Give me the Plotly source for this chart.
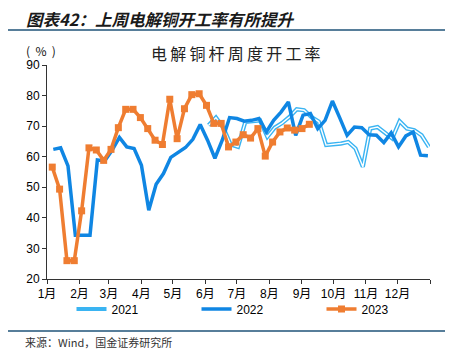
import pandas as pd
import plotly.graph_objects as go

# ---- data ----
months = ["1月", "2月", "3月", "4月", "5月", "6月", "7月", "8月", "9月", "10月", "11月", "12月", ""]
month_starts = ["2023-%02d-01" % m for m in range(1, 13)] + ["2024-01-01"]

y2021 = [70.3, 72.8, 69.5, 64.0, 63.2, 71.4, 71.6, 71.9, 66.5, 69.5,
         71.0, 73.0, 75.5, 75.2, 73.0, 71.5, 63.8, 64.0, 64.3, 64.8,
         62.7, 56.7, 69.2, 69.7, 68.0, 66.0, 71.6, 69.2, 68.7, 67.0, 63.2]
y2022 = [62.4, 62.9, 57.0, 34.3, 34.3, 34.3, 58.9, 58.6, 62.1, 66.3,
         63.2, 62.7, 57.2, 42.5, 51.0, 54.5, 59.8, 61.5, 63.0, 65.7,
         70.5, 65.4, 59.5, 65.4, 72.8, 72.5, 71.6, 71.9, 72.5, 68.1,
         71.9, 74.6, 77.9, 67.0, 73.6, 74.1, 69.2, 71.9, 78.2, 72.7,
         67.0, 69.7, 69.5, 67.2, 67.0, 64.6, 67.8, 63.2, 66.8, 68.1,
         60.5, 60.3]
y2023 = [56.6, 49.4, 26.0, 26.0, 42.3, 62.9, 62.2, 58.8, 62.4, 69.5,
         75.5, 75.5, 72.8, 69.2, 65.4, 64.0, 78.8, 65.9, 75.7, 80.3,
         80.6, 76.8, 70.9, 70.9, 63.2, 64.8, 67.2, 66.1, 69.2, 60.2,
         64.8, 68.1, 69.4, 68.7, 69.2, 70.6]

# weekly dates mapped onto a common calendar year
x2021 = pd.date_range("2023-06-04", periods=len(y2021), freq="7D")
x2022 = pd.date_range("2023-01-07", periods=len(y2022), freq="7D")
x2023 = pd.date_range("2023-01-06", periods=len(y2023), freq="7D")

C21 = "#3ab4f2"
C22 = "#0f86e3"
C23 = "#ef7d31"

fig = go.Figure()
# 2021: double line (light-blue outline, white core)
fig.add_trace(go.Scatter(x=x2021, y=y2021, mode="lines", name="2021",
                         line=dict(color=C21, width=4.2), legendgroup="a"))
fig.add_trace(go.Scatter(x=x2021, y=y2021, mode="lines", name="2021",
                         line=dict(color="white", width=1.4), legendgroup="a",
                         showlegend=False, hoverinfo="skip"))
fig.add_trace(go.Scatter(x=x2022, y=y2022, mode="lines", name="2022",
                         line=dict(color=C22, width=3.5)))
fig.add_trace(go.Scatter(x=x2023, y=y2023, mode="lines+markers", name="2023",
                         line=dict(color=C23, width=3.5),
                         marker=dict(symbol="square", size=7, color=C23)))

# page body has an 8px default margin: the figure is shifted by it
OFF = 8
PL, PR, PT, PB = 47, 430, 65, 279          # plot box in window pixels
W, H = 462 - OFF, 359 - OFF
L, T = PL - OFF, PT - OFF
R, B = W - (PR - OFF), H - (PB - OFF)
pw, ph = PR - PL, PB - PT


def px(x):
    return (x - PL) / pw


def py(y):
    return (PB - y) / ph


cjk = "Noto Sans CJK SC"
thin = "\u2009"
fig.update_layout(
    width=W, height=H,
    margin=dict(l=L, r=R, t=T, b=B, autoexpand=False),
    paper_bgcolor="white", plot_bgcolor="white",
    font=dict(family="Liberation Sans, " + cjk, size=12, color="#000"),
    showlegend=True,
    legend=dict(orientation="h", x=px(259), xanchor="center", y=py(309), yanchor="middle",
                font=dict(size=12, family="Liberation Sans"), entrywidth=80,
                itemwidth=30, bgcolor="rgba(0,0,0,0)"),
    xaxis=dict(type="date", range=["2023-01-01", "2024-01-01"],
               tickvals=month_starts, ticktext=months, ticks="outside", ticklen=4,
               tickcolor="#333", showline=True, linecolor="#333", linewidth=1,
               showgrid=False, zeroline=False,
               tickfont=dict(size=12, family="Liberation Sans, " + cjk)),
    yaxis=dict(range=[20, 90], tickvals=[20, 30, 40, 50, 60, 70, 80, 90],
               ticks="outside", ticklen=4, tickcolor="#333", showline=True,
               linecolor="#333", linewidth=1, showgrid=False, zeroline=False,
               tickfont=dict(size=12)),
    annotations=[
        dict(text="<b><i>图表42：上周电解铜开工率有所提升</i></b>", xref="paper", yref="paper",
             x=px(160), y=py(19), xanchor="center", yanchor="middle", showarrow=False,
             borderpad=0,
             font=dict(family=cjk, size=16.5, color="#1a1a1a")),
        dict(text=thin.join("电解铜杆周度开工率"), xref="paper", yref="paper",
             x=px(236), y=py(53), xanchor="center", yanchor="middle", showarrow=False,
             font=dict(family=cjk, size=16, color="#222")),
        dict(text="(  %  )", xref="paper", yref="paper",
             x=px(24), y=py(50), xanchor="left", yanchor="middle", showarrow=False,
             font=dict(family=cjk, size=12, color="#111")),
        dict(text="来源：Wind，国金证券研究所", xref="paper", yref="paper",
             x=px(23), y=py(342), xanchor="left", yanchor="middle", showarrow=False,
             font=dict(family=cjk, size=11, color="#333")),
    ],
    shapes=[
        dict(type="line", xref="paper", yref="paper", x0=px(0), x1=px(445),
             y0=py(30), y1=py(30), line=dict(color="#1f5378", width=1.5)),
        dict(type="line", xref="paper", yref="paper", x0=px(0), x1=px(445),
             y0=py(331), y1=py(331), line=dict(color="#1f5378", width=1.5)),
    ],
)

fig.write_html("out.html")
